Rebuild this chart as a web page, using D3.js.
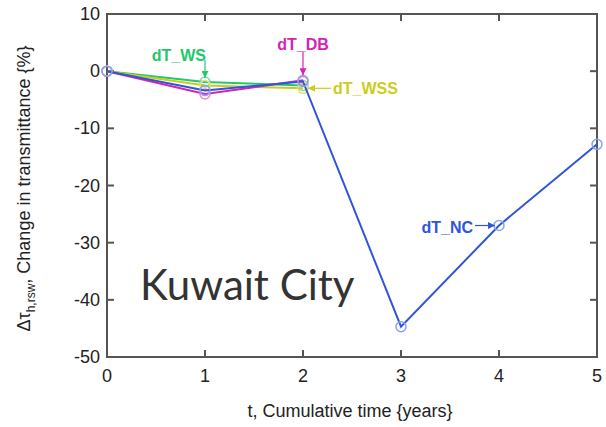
<!DOCTYPE html>
<html>
<head>
<meta charset="utf-8">
<script src="https://cdn.jsdelivr.net/npm/d3@7"></script>
<style>
  html, body { margin: 0; padding: 0; background: #fff; }
  svg { display: block; }
</style>
</head>
<body>
<svg id="chart" width="606" height="427"></svg>
<script>
// Cumulative exposure time (years)
const years = [0, 1, 2, 3, 4, 5];
const xTicks = [0, 1, 2, 3, 4, 5];
const yTicks = [10, 0, -10, -20, -30, -40, -50];

// Change in transmittance (%) per cleaning scenario
const dT_NC  = [0, -3.4, -1.8, -44.7, -27.0, -12.8];
const dT_WS  = [0, -1.9, -2.5];
const dT_WSS = [0, -2.5, -3.0];
const dT_DB  = [0, -4.0, -1.6];

const series = [
  { name: "dT_WS",  values: dT_WS,  color: "#22c86a", marker: "#7ede9e" },
  { name: "dT_WSS", values: dT_WSS, color: "#cccc1e", marker: "#e0e07a" },
  { name: "dT_DB",  values: dT_DB,  color: "#d424b4", marker: "#e48ad2" },
  { name: "dT_NC",  values: dT_NC,  color: "#2f55d8", marker: "#8ea2ec" }
];

const svg = d3.select("#chart");
const m = { left: 107, right: 597, top: 14, bottom: 357 };

const x = d3.scaleLinear().domain([0, 5]).range([m.left, m.right]);
const y = d3.scaleLinear().domain([-50, 10]).range([m.bottom, m.top]);

const axisColor = "#555";
const tickFont = "Liberation Sans, Arial, sans-serif";

// Frame
svg.append("rect")
  .attr("x", m.left).attr("y", m.top)
  .attr("width", m.right - m.left).attr("height", m.bottom - m.top)
  .attr("fill", "none").attr("stroke", axisColor).attr("stroke-width", 2);

// Inward ticks on all four sides
const tl = 7;
const tickG = svg.append("g").attr("stroke", axisColor).attr("stroke-width", 2);
xTicks.forEach(t => {
  tickG.append("line").attr("x1", x(t)).attr("x2", x(t)).attr("y1", m.bottom).attr("y2", m.bottom - tl);
  tickG.append("line").attr("x1", x(t)).attr("x2", x(t)).attr("y1", m.top).attr("y2", m.top + tl);
});
yTicks.forEach(t => {
  tickG.append("line").attr("x1", m.left).attr("x2", m.left + tl).attr("y1", y(t)).attr("y2", y(t));
  tickG.append("line").attr("x1", m.right).attr("x2", m.right - tl).attr("y1", y(t)).attr("y2", y(t));
});

// Tick labels
svg.append("g").selectAll("text").data(xTicks).join("text")
  .attr("x", d => x(d)).attr("y", m.bottom + 25)
  .attr("text-anchor", "middle")
  .attr("font-family", tickFont).attr("font-size", 18).attr("fill", "#222")
  .text(d => d);
svg.append("g").selectAll("text").data(yTicks).join("text")
  .attr("x", m.left - 7).attr("y", d => y(d) + 6)
  .attr("text-anchor", "end")
  .attr("font-family", tickFont).attr("font-size", 18).attr("fill", "#222")
  .text(d => d);

// Axis titles
svg.append("text")
  .attr("x", (m.left + m.right) / 2 - 2).attr("y", 417)
  .attr("text-anchor", "middle")
  .attr("font-family", tickFont).attr("font-size", 18).attr("fill", "#222")
  .text("t, Cumulative time {years}");

const yTitle = svg.append("text")
  .attr("transform", `translate(30, ${(m.top + m.bottom) / 2 + 3}) rotate(-90)`)
  .attr("text-anchor", "middle")
  .attr("font-family", tickFont).attr("font-size", 18).attr("fill", "#222");
yTitle.append("tspan").text("Δτ");
yTitle.append("tspan").attr("font-size", 12).attr("dy", 5).text("h,rsw");
yTitle.append("tspan").attr("dy", -5).text(", Change in transmittance {%}");

// Series lines and open-circle markers
const line = d3.line().x((d, i) => x(years[i])).y(d => y(d));
series.forEach(s => {
  svg.append("path")
    .datum(s.values)
    .attr("d", line)
    .attr("fill", "none")
    .attr("stroke", s.color)
    .attr("stroke-width", 2);
  svg.append("g").selectAll("circle").data(s.values).join("circle")
    .attr("cx", (d, i) => x(years[i])).attr("cy", d => y(d))
    .attr("r", 5)
    .attr("fill", "none")
    .attr("stroke", s.marker)
    .attr("stroke-width", 1.5);
});

// Arrow markers for annotation callouts
const defs = svg.append("defs");
series.forEach(s => {
  defs.append("marker")
    .attr("id", "arr-" + s.name)
    .attr("viewBox", "0 0 10 10")
    .attr("refX", 10).attr("refY", 5)
    .attr("markerWidth", 9).attr("markerHeight", 7)
    .attr("markerUnits", "userSpaceOnUse")
    .attr("orient", "auto")
    .append("path").attr("d", "M0,0 L10,5 L0,10 Z").attr("fill", s.color);
});

const labelFont = "Liberation Sans, Arial, sans-serif";
function callout(s, text, tx, ty, anchor, x1, y1, x2, y2) {
  svg.append("text")
    .attr("x", tx).attr("y", ty)
    .attr("text-anchor", anchor)
    .attr("font-family", labelFont).attr("font-weight", "bold")
    .attr("font-size", 16).attr("fill", s.color)
    .text(text);
  svg.append("line")
    .attr("x1", x1).attr("y1", y1).attr("x2", x2).attr("y2", y2)
    .attr("stroke", s.color).attr("stroke-width", 1.2)
    .attr("marker-end", `url(#arr-${s.name})`);
}
const byName = Object.fromEntries(series.map(s => [s.name, s]));

callout(byName.dT_WS, "dT_WS", x(1) + 1, 61, "end",
  x(1), 60, x(1), y(dT_WS[1]) - 4);
callout(byName.dT_DB, "dT_DB", x(2), 50, "middle",
  x(2), 52, x(2), y(dT_DB[2]) - 5);
callout(byName.dT_WSS, "dT_WSS", x(2) + 30, 94, "start",
  x(2) + 28, y(dT_WSS[2]), x(2) + 5, y(dT_WSS[2]));
callout(byName.dT_NC, "dT_NC", x(4) - 26, 233, "end",
  x(4) - 24, y(dT_NC[4]), x(4) - 4, y(dT_NC[4]));

// Location label
svg.append("text")
  .attr("x", 140).attr("y", 300)
  .attr("font-family", "Lato, 'Open Sans', sans-serif")
  .attr("font-size", 42).attr("fill", "#333")
  .text("Kuwait City");
</script>
</body>
</html>
